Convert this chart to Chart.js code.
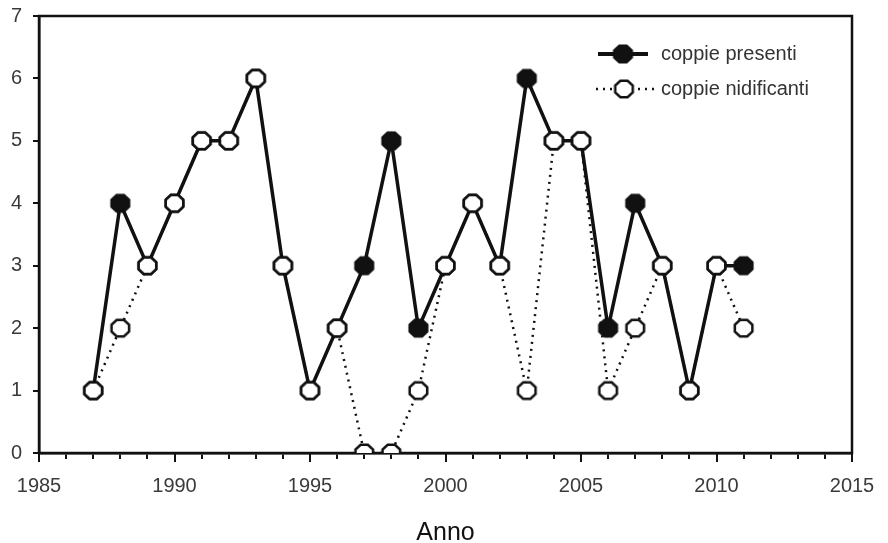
<!DOCTYPE html>
<html>
<head>
<meta charset="utf-8">
<script src="https://cdn.jsdelivr.net/npm/chart.js@4/dist/chart.umd.min.js"></script>
<style>
  html, body { margin: 0; padding: 0; background: #fff; }
  #wrap { width: 888px; height: 543px; }
</style>
</head>
<body>
<div id="wrap"><canvas id="coppie-chart" width="888" height="543"></canvas></div>
<script>
// Dati
var anni = [1987, 1988, 1989, 1990, 1991, 1992, 1993, 1994, 1995, 1996, 1997, 1998, 1999,
            2000, 2001, 2002, 2003, 2004, 2005, 2006, 2007, 2008, 2009, 2010, 2011];
var coppiePresenti = [1, 4, 3, 4, 5, 5, 6, 3, 1, 2, 3, 5, 2, 3, 4, 3, 6, 5, 5, 2, 4, 3, 1, 3, 3];
var coppieNidificanti = [1, 2, 3, 4, 5, 5, 6, 3, 1, 2, 0, 0, 1, 3, 4, 3, 1, 5, 5, 1, 2, 3, 1, 3, 2];
var etichetteSerie = ["coppie presenti", "coppie nidificanti"];
var titoloAsseX = "Anno";

var FONT = "'Liberation Sans', Arial, sans-serif";

// Marcatore ottagonale disegnato su un canvas a parte
function ottagono(riempimento, rx, ry) {
  var c = document.createElement("canvas");
  c.width = Math.ceil(rx * 2 + 4);
  c.height = Math.ceil(ry * 2 + 4);
  var g = c.getContext("2d");
  g.beginPath();
  for (var i = 0; i < 8; i++) {
    var a = Math.PI / 8 + i * Math.PI / 4;
    var px = c.width / 2 + rx * Math.cos(a);
    var py = c.height / 2 + ry * Math.sin(a);
    if (i === 0) g.moveTo(px, py); else g.lineTo(px, py);
  }
  g.closePath();
  g.fillStyle = riempimento;
  g.fill();
  g.lineWidth = 2.5;
  g.strokeStyle = "#111";
  g.stroke();
  return c;
}

var pieno = ottagono("#111", 9.5, 8.8);
var vuoto = ottagono("#fff", 9.5, 8.8);

function punti(valori) {
  return anni.map(function (a, i) { return { x: a, y: valori[i] }; });
}

// Cornice attorno all'area del grafico e tacche principali più lunghe
var cornice = {
  id: "cornice",
  beforeDatasetsDraw: function (chart) {
    var a = chart.chartArea, ctx = chart.ctx;
    ctx.save();
    ctx.strokeStyle = "#111";
    ctx.lineWidth = 2.5;
    ctx.strokeRect(a.left, a.top, a.right - a.left, a.bottom - a.top);
    ctx.lineWidth = 2;
    var sx = chart.scales.x;
    sx.ticks.forEach(function (t) {
      if (t.value % 5 === 0) {
        var px = Math.round(sx.getPixelForValue(t.value));
        ctx.beginPath(); ctx.moveTo(px, a.bottom); ctx.lineTo(px, a.bottom + 9); ctx.stroke();
      }
    });
    ctx.restore();
  }
};

// Legenda interna in alto a destra
var legenda = {
  id: "legenda",
  afterDraw: function (chart) {
    var ctx = chart.ctx;
    ctx.save();
    ctx.strokeStyle = "#111";
    // coppie presenti
    ctx.lineWidth = 4;
    ctx.beginPath(); ctx.moveTo(598, 54); ctx.lineTo(648, 54); ctx.stroke();
    ctx.drawImage(pieno, 623 - pieno.width / 2, 54 - pieno.height / 2);
    // coppie nidificanti
    ctx.lineWidth = 2.5;
    ctx.setLineDash([2, 5]);
    ctx.beginPath(); ctx.moveTo(596, 89); ctx.lineTo(656, 89); ctx.stroke();
    ctx.setLineDash([]);
    ctx.drawImage(vuoto, 624 - vuoto.width / 2, 89 - vuoto.height / 2);
    ctx.fillStyle = "#333";
    ctx.font = "20px " + FONT;
    ctx.textBaseline = "middle";
    ctx.fillText(etichetteSerie[0], 661, 54);
    ctx.fillText(etichetteSerie[1], 661, 89);
    ctx.restore();
  }
};

var ctx = document.getElementById("coppie-chart").getContext("2d");

var chart = new Chart(ctx, {
  type: "line",
  data: {
    datasets: [
      {
        label: etichetteSerie[0],
        data: punti(coppiePresenti),
        borderColor: "#111",
        borderWidth: 3.5,
        pointStyle: pieno,
        order: 2
      },
      {
        label: etichetteSerie[1],
        data: punti(coppieNidificanti),
        borderColor: "#111",
        borderWidth: 2.5,
        borderDash: [2, 5],
        pointStyle: vuoto,
        order: 1
      }
    ]
  },
  options: {
    responsive: false,
    devicePixelRatio: 1,
    animation: false,
    layout: { padding: { top: 16, right: 36, left: 0, bottom: 0 } },
    plugins: {
      legend: { display: false },
      tooltip: { enabled: false }
    },
    scales: {
      x: {
        type: "linear",
        min: 1985,
        max: 2015,
        afterFit: function (s) { s.height = 90; s.paddingLeft = 0; s.paddingRight = 0; },
        ticks: {
          stepSize: 1,
          autoSkip: false,
          maxRotation: 0,
          color: "#3a3a3a",
          font: { family: FONT, size: 20 },
          padding: 15,
          callback: function (v) { return v % 5 === 0 ? String(v) : ""; }
        },
        grid: { drawOnChartArea: false, drawTicks: true, tickLength: 6, color: "#111", lineWidth: 2 },
        border: { color: "#111", width: 2.5 },
        title: {
          display: true,
          text: titoloAsseX,
          color: "#111",
          font: { family: FONT, size: 25, lineHeight: 1 },
          padding: { top: 0, bottom: -3 }
        }
      },
      y: {
        min: 0,
        max: 7,
        afterFit: function (s) { s.width = 39; s.paddingTop = 0; s.paddingBottom = 0; },
        ticks: {
          stepSize: 1,
          color: "#3a3a3a",
          font: { family: FONT, size: 20 },
          padding: 11
        },
        grid: { drawOnChartArea: false, drawTicks: true, tickLength: 6, color: "#111", lineWidth: 2 },
        border: { color: "#111", width: 2.5 }
      }
    }
  },
  plugins: [cornice, legenda]
});
</script>
</body>
</html>
